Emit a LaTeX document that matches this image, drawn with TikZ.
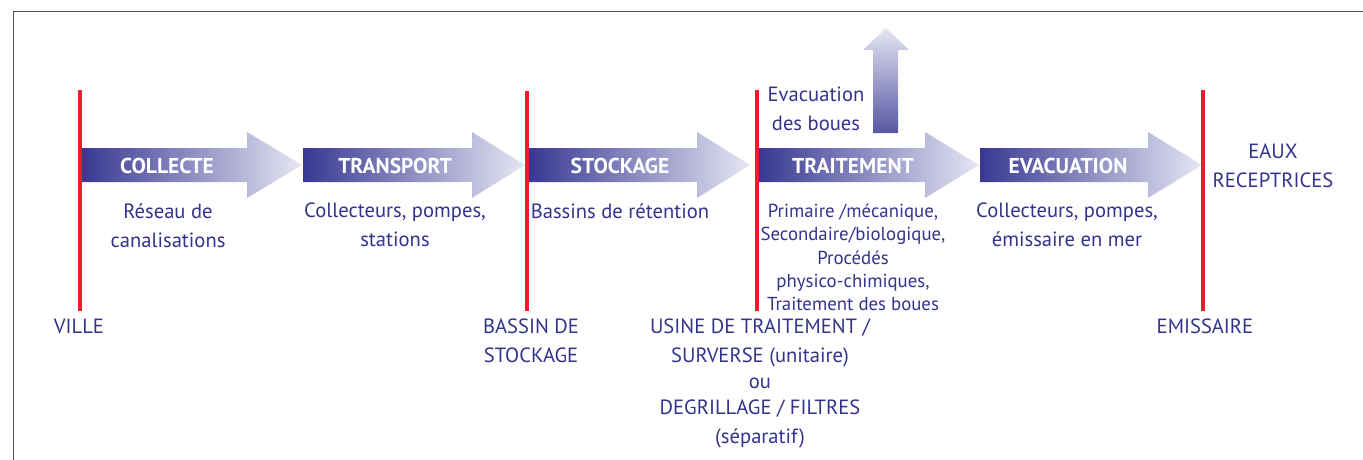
\documentclass[tikz,border=0pt]{standalone}
\usepackage{fontspec}
\setmainfont{PT Sans}
\begin{document}
\definecolor{inkblue}{HTML}{33338C}
\definecolor{arrowdark}{HTML}{383892}
\definecolor{arrowlight}{HTML}{E6E6F4}
\definecolor{markred}{HTML}{EC1C2A}
\definecolor{framegray}{HTML}{555555}
\begin{tikzpicture}[x=1pt,y=-1pt,
  txt/.style={text=inkblue,font=\fontsize{20.6}{29}\selectfont,align=center,inner sep=0pt},
  dense/.style={txt,font=\fontsize{18.8}{23.2}\selectfont},
  stage/.style={text=white,font=\fontsize{21.5}{22}\bfseries\selectfont,inner sep=0pt},
  marker/.style={draw=markred,line width=3.6pt},
  flow/.style={left color=arrowdark,right color=arrowlight}]
\useasboundingbox (0,0) rectangle (1363,460);
% frame
\draw[framegray,line width=1.8pt] (13.5,470) -- (13.5,11.5) -- (1380,11.5);

% horizontal flow arrows: body start, head start, tip
\newcommand\flowarrow[3]{%
  \shade[flow] (#1,148) -- (#2,148) -- (#2,132) -- (#3,165) -- (#2,198) -- (#2,182) -- (#1,182) -- cycle;}
\flowarrow{82}{247}{302}
\flowarrow{303}{472}{525}
\flowarrow{529}{697}{750}
\flowarrow{759}{925}{979}
\flowarrow{980}{1148}{1202}

% sludge outlet arrow
\shade[bottom color=arrowdark!85!white,top color=arrowlight]
  (873,133) -- (873,50) -- (863,50) -- (886,28) -- (909,50) -- (898,50) -- (898,133) -- cycle;

% red boundaries
\coordinate (v1t) at (80,90);   \coordinate (v1b) at (80,311);
\coordinate (v2t) at (527,91);  \coordinate (v2b) at (527,311);
\coordinate (v3t) at (757,90);  \coordinate (v3b) at (757,311);
\coordinate (v4t) at (1203,90); \coordinate (v4b) at (1203,311);
\draw[marker] (v1t) -- (v1b);
\draw[marker] (v2t) -- (v2b);
\draw[marker] (v3t) -- (v3b);
\draw[marker] (v4t) -- (v4b);

% stage labels
\node[stage] (collecte) at (167,166) {COLLECTE};
\node[stage] (transport) at (395,166) {TRANSPORT};
\node[stage] (stockage) at (620,166) {STOCKAGE};
\node[stage] (traitement) at (853,166) {TRAITEMENT};
\node[stage] (evacuation) at (1068,166) {EVACUATION};

% descriptions
\node[txt,anchor=north] (d1) at (168,203) {Réseau de\\canalisations};
\node[txt,anchor=north] (d2) at (395,203) {Collecteurs, pompes,\\stations};
\node[txt,anchor=north] (d3) at (620,203) {Bassins de rétention};
\node[dense,anchor=north] (d4) at (853,204) {Primaire /mécanique,\\Secondaire/biologique,\\Procédés\\physico-chimiques,\\Traitement des boues};
\node[txt,anchor=north] (d5) at (1067,203) {Collecteurs, pompes,\\émissaire en mer};
\node[txt,anchor=north] (boues) at (816,87) {Evacuation\\des boues};
\node[txt,anchor=north] (eaux) at (1273,144) {EAUX\\RECEPTRICES};

% places
\node[txt,anchor=north] (ville) at (79,319) {VILLE};
\node[txt,anchor=north] (bassin) at (531,319) {BASSIN DE\\STOCKAGE};
\node[txt,anchor=north] (usine) at (760,319) {USINE DE TRAITEMENT /\\SURVERSE (unitaire)\\[-3pt]ou\\[-3pt]DEGRILLAGE / FILTRES\\(séparatif)};
\node[txt,anchor=north] (emissaire) at (1205,319) {EMISSAIRE};
\end{tikzpicture}
\end{document}
